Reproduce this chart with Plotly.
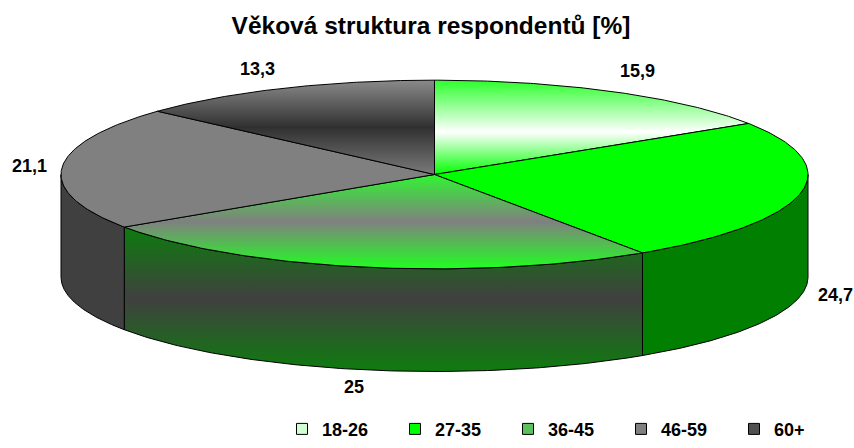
import numpy as np
import plotly.graph_objects as go

# ---------------- data ----------------
categories = ["18-26", "27-35", "36-45", "46-59", "60+"]
values = [15.9, 24.7, 25.0, 21.1, 13.3]
value_labels = ["15,9", "24,7", "25", "21,1", "13,3"]
title_text = "Věková struktura respondentů [%]"

# ---------------- layout / style ----------------
W, H = 854, 448
CX, CY = 434.5, 178.5      # centre of the top face (window pixels)
RX, RY = 373.5, 96.5       # radii of the top face ellipse
DEPTH = 105                # thickness of the pie

FONT = "Arial, 'Liberation Sans', sans-serif"

top_scales = [
    [[0, "#2cff2c"], [0.55, "#ffffff"], [1, "#00ff00"]],
    [[0, "#00ff00"], [1, "#00ff00"]],
    [[0, "#30f530"], [0.5, "#808080"], [1, "#20ff20"]],
    [[0, "#808080"], [1, "#808080"]],
    [[0, "#8a8a8a"], [0.5, "#303030"], [1, "#7a7a7a"]],
]
side_scales = [
    [[0, "#007f00"], [1, "#007f00"]],
    [[0, "#007f00"], [1, "#007f00"]],
    [[0, "#0c7c0c"], [0.5, "#404040"], [1, "#0e7c0e"]],
    [[0, "#404040"], [1, "#404040"]],
    [[0, "#404040"], [1, "#404040"]],
]
legend_colors = ["#d0ffd0", "#00ff00", "#5cc05c", "#808080", "#505050"]
# pixel nudges of the value labels from the slice's outer edge
label_shift = [(24, 21), (35, 1), (-8, -17), (-32, 1.5), (-25, 19)]


def arc(t0, t1, n=120):
    t = np.radians(np.linspace(t0, t1, n))
    return CX + RX * np.cos(t), CY - RY * np.sin(t)


def scale_trace(xs, ys, cs):
    cols = {c for _, c in cs}
    common = dict(x=xs, y=ys, fill="toself", mode="lines",
                  line=dict(color="black", width=1),
                  showlegend=False, hoverinfo="skip")
    if len(cols) == 1:
        return go.Scatter(fillcolor=cs[0][1], **common)
    return go.Scatter(fillgradient=dict(type="vertical", colorscale=cs,
                                        start=float(np.min(ys)),
                                        stop=float(np.max(ys))), **common)


total = sum(values)
cum = np.concatenate([[0], np.cumsum(values)]) / total
t_start = 90 - 360 * cum[:-1]
t_end = 90 - 360 * cum[1:]

fig = go.Figure()

# side walls (front half only: angles between -180 and 0)
for i in range(len(values)):
    hi = min(t_start[i], 0)
    lo = max(t_end[i], -180)
    if hi <= lo:
        continue
    ax_, ay_ = arc(hi, lo)
    xs = np.concatenate([ax_, ax_[::-1], ax_[:1]])
    ys = np.concatenate([ay_, ay_[::-1] + DEPTH, ay_[:1]])
    fig.add_trace(scale_trace(xs, ys, side_scales[i]))

# top faces
for i in range(len(values)):
    ax_, ay_ = arc(t_start[i], t_end[i])
    xs = np.concatenate([[CX], ax_, [CX]])
    ys = np.concatenate([[CY], ay_, [CY]])
    fig.add_trace(scale_trace(xs, ys, top_scales[i]))

# value labels
for i in range(len(values)):
    tm = np.radians((t_start[i] + t_end[i]) / 2)
    x = CX + RX * np.cos(tm)
    y = CY - RY * np.sin(tm)
    if np.sin(tm) < 0:
        y += DEPTH
    fig.add_annotation(x=x, y=y, xref="x", yref="y", text=value_labels[i],
                       showarrow=False, xshift=label_shift[i][0],
                       yshift=label_shift[i][1],
                       font=dict(family=FONT, size=18, color="black",
                                 weight="bold"))

# legend entries
for i, c in enumerate(categories):
    fig.add_trace(go.Scatter(x=[None], y=[None], mode="markers", name=c,
                             marker=dict(symbol="square", size=11,
                                         color=legend_colors[i],
                                         line=dict(color="black", width=1))))


def px(v):
    return v / W


def py(v):
    return 1 - v / H


fig.update_layout(
    width=W, height=H,
    margin=dict(l=0, r=0, t=0, b=0),
    paper_bgcolor="white", plot_bgcolor="white",
    title=dict(text="<b>" + title_text + "</b>", x=px(431), xanchor="center",
               y=py(25), yanchor="middle",
               font=dict(family=FONT, size=24.5, color="black")),
    xaxis=dict(range=[0, W], visible=False, fixedrange=True),
    yaxis=dict(range=[H, 0], visible=False, fixedrange=True),
    legend=dict(orientation="h", x=px(282), xanchor="left",
                y=py(439), yanchor="middle", entrywidth=68,
                itemwidth=30, bgcolor="rgba(0,0,0,0)",
                font=dict(family=FONT, size=18, color="black", weight="bold")),
    showlegend=True,
)

fig.write_html(
    "out.html",
    config={"displayModeBar": False},
    post_script="document.body.style.margin='0';"
                "document.body.style.overflow='hidden';",
)
